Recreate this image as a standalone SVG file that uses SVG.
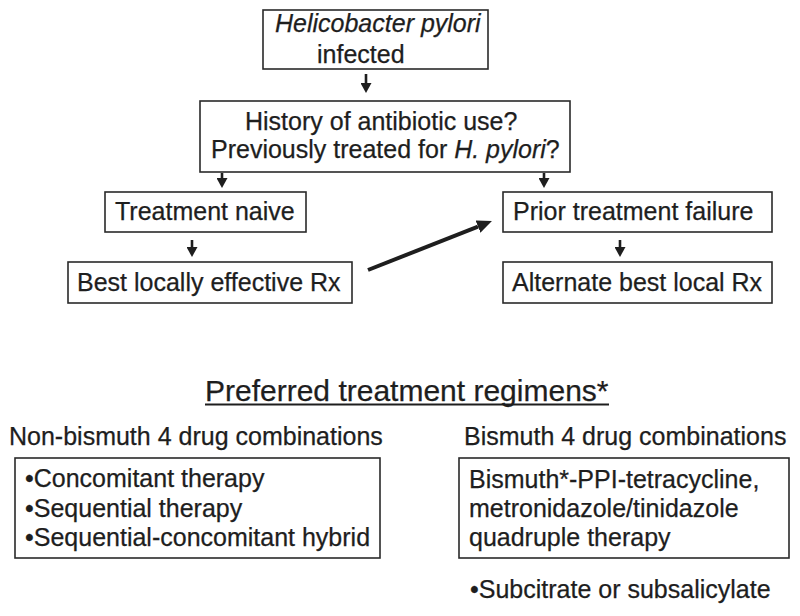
<svg xmlns="http://www.w3.org/2000/svg" width="800" height="616" viewBox="0 0 800 616">
<style>
.box{fill:#fff;stroke:#2a2a2a;stroke-width:1.6}
.t{font-family:"Liberation Sans",Arial,sans-serif;font-size:25px;fill:#1e1e1e;stroke:#1e1e1e;stroke-width:0.25}
.it{font-style:italic}
.title{font-size:30px}
.arr{stroke:#1e1e1e;stroke-width:2.6;fill:none}
.big{stroke:#1e1e1e;stroke-width:4;fill:none}
</style>
<defs>
<marker id="ah" markerUnits="userSpaceOnUse" markerWidth="10" markerHeight="11" refX="0" refY="5.5" viewBox="0 0 10 11" orient="auto">
<path d="M0,0 L10,5.5 L0,11 z" fill="#1e1e1e"/>
</marker>
<marker id="ahb" markerUnits="userSpaceOnUse" markerWidth="15" markerHeight="13" refX="0" refY="6.5" viewBox="0 0 15 13" orient="auto">
<path d="M0,0 L15,6.5 L0,13 z" fill="#1e1e1e"/>
</marker>
</defs>
<rect width="800" height="616" fill="#fff"/>
<g id="n1"><rect class="box" x="263" y="10" width="225" height="59"/>
<text class="t it" x="275" y="32">Helicobacter pylori</text>
<text class="t" x="317" y="63">infected</text></g>
<g id="n2"><rect class="box" x="200" y="101" width="370" height="71"/>
<text class="t" x="245" y="130">History of antibiotic use?</text>
<text class="t" x="211" y="158">Previously treated for <tspan class="it">H. pylori</tspan>?</text></g>
<g id="n3"><rect class="box" x="105" y="192" width="201" height="40"/>
<text class="t" x="115" y="220">Treatment naive</text></g>
<g id="n4"><rect class="box" x="68" y="262" width="284" height="41"/>
<text class="t" x="77" y="291">Best locally effective Rx</text></g>
<g id="n5"><rect class="box" x="503" y="192" width="269" height="40"/>
<text class="t" x="513" y="220">Prior treatment failure</text></g>
<g id="n6"><rect class="box" x="503" y="262" width="269" height="41"/>
<text class="t" x="512" y="291">Alternate best local Rx</text></g>
<g id="connectors">
<line class="arr" x1="366" y1="74" x2="366" y2="83" marker-end="url(#ah)"/>
<line class="arr" x1="222" y1="173" x2="222" y2="178" marker-end="url(#ah)"/>
<line class="arr" x1="544" y1="173" x2="544" y2="178" marker-end="url(#ah)"/>
<line class="arr" x1="192" y1="240" x2="192" y2="247" marker-end="url(#ah)"/>
<line class="arr" x1="620" y1="240" x2="620" y2="247" marker-end="url(#ah)"/>
<line class="big" x1="368" y1="270" x2="478" y2="226.6" marker-end="url(#ahb)"/>
</g>
<g id="title">
<text class="t title" x="205" y="401">Preferred treatment regimens*</text>
<line x1="205" y1="404.5" x2="609" y2="404.5" stroke="#1e1e1e" stroke-width="2"/>
</g>
<g id="n7">
<text class="t" x="9" y="445">Non-bismuth 4 drug combinations</text>
<rect class="box" x="15" y="458" width="365" height="100"/>
<text class="t" x="25" y="487">•Concomitant therapy</text>
<text class="t" x="25" y="517">•Sequential therapy</text>
<text class="t" x="25" y="546">•Sequential-concomitant hybrid</text>
</g>
<g id="n8">
<text class="t" x="464" y="445">Bismuth 4 drug combinations</text>
<rect class="box" x="459" y="458" width="330" height="100"/>
<text class="t" x="469" y="488">Bismuth*-PPI-tetracycline,</text>
<text class="t" x="469" y="517">metronidazole/tinidazole</text>
<text class="t" x="469" y="546">quadruple therapy</text>
<text class="t" x="470" y="598">•Subcitrate or subsalicylate</text>
</g>
</svg>
